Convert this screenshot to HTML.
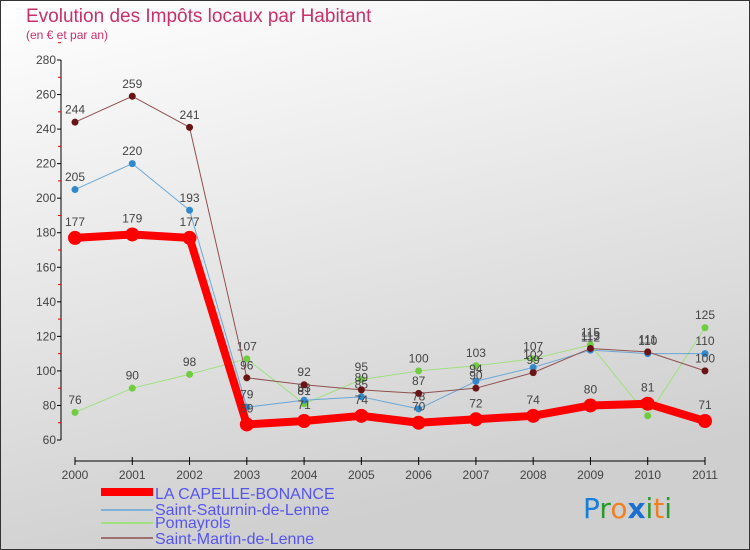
<!DOCTYPE html>
<html><head><meta charset="utf-8"><style>
body{margin:0;width:750px;height:550px;overflow:hidden}
svg{display:block;font-family:"Liberation Sans",sans-serif}
</style></head><body>
<svg width="750" height="550">
<defs><linearGradient id="bg" x1="0" y1="0" x2="0.3" y2="1"><stop offset="0" stop-color="#ffffff"/><stop offset="1" stop-color="#cfcfcf"/></linearGradient></defs>
<rect x="0.5" y="0.5" width="749" height="549" fill="url(#bg)" stroke="#333"/>
<text x="26" y="22" font-size="19" fill="#c8306a">Evolution des Impôts locaux par Habitant</text>
<text x="26" y="39" font-size="12" fill="#c8306a">(en € et par an)</text>
<g id="axes"></g><g id="series"></g>
<g>
<rect x="101" y="488" width="52" height="8" fill="#f00"/>
<text x="155" y="499" font-size="16" fill="#5555ee">LA CAPELLE-BONANCE</text>
<rect x="101" y="509" width="52" height="2" fill="#7fb0d8"/>
<text x="155" y="515" font-size="16" fill="#5555ee">Saint-Saturnin-de-Lenne</text>
<rect x="101" y="522" width="52" height="2" fill="#a0e080"/>
<text x="155" y="528" font-size="16" fill="#5555ee">Pomayrols</text>
<rect x="101" y="537" width="52" height="2" fill="#a07070"/>
<text x="155" y="544" font-size="16" fill="#5555ee">Saint-Martin-de-Lenne</text>
</g>
<g font-size="28" font-family="DejaVu Sans,sans-serif">
<text x="583" y="518"><tspan fill="#1a7fd8">P</tspan><tspan fill="#2a9a2a">r</tspan><tspan fill="#f08020">o</tspan><tspan fill="#1a6fd0" font-weight="bold">x</tspan><tspan fill="#2a9a2a">i</tspan><tspan fill="#f08020">t</tspan><tspan fill="#2a9a2a">i</tspan></text>
</g>
</svg>
<script>
const years=[2000,2001,2002,2003,2004,2005,2006,2007,2008,2009,2010,2011];
const yTicks=[60,80,100,120,140,160,180,200,220,240,260,280];
const capelle=[177,179,177,69,71,74,70,72,74,80,81,71];
const saturnin=[205,220,193,79,83,85,78,94,102,112,110,110];
const pomayrols=[76,90,98,107,81,95,100,103,107,115,74,125];
const martin=[244,259,241,96,92,89,87,90,99,113,111,100];
const NS="http://www.w3.org/2000/svg";
const xs=i=>75+i*(630/11);
const ys=v=>440-(v-60)*(380/220);
function mk(t,a,p){const e=document.createElementNS(NS,t);for(const k in a)e.setAttribute(k,a[k]);p.appendChild(e);return e;}
const ax=document.getElementById('axes');
let l=mk('line',{x1:61,y1:60,x2:61,y2:440,stroke:'#000'},ax);


yTicks.forEach(v=>{
 mk('line',{x1:57,x2:61,y1:ys(v),y2:ys(v),stroke:'#000'},ax);
 mk('line',{x1:58,x2:61,y1:ys(v+10),y2:ys(v+10),stroke:'#d00'},ax);
 const t=mk('text',{x:56,y:ys(v)+4,'text-anchor':'end','font-size':12,fill:'#444'},ax);t.textContent=v;
 
 
});
l=mk('line',{x1:75,y1:461,x2:705,y2:461,stroke:'#000'},ax);


years.forEach((y,i)=>{
 mk('line',{x1:xs(i),x2:xs(i),y1:457,y2:465,stroke:'#000'},ax);
 const t=mk('text',{x:xs(i),y:479,'text-anchor':'middle','font-size':12,fill:'#444'},ax);t.textContent=y;
 
 
});
const sg=document.getElementById('series');
function draw(data,color,dot,w,r,name){
 const g=mk('g',{},sg);
 
 
 mk('polyline',{points:data.map((v,i)=>xs(i)+','+ys(v)).join(' '),fill:'none',stroke:color,'stroke-width':w,'stroke-linejoin':'round'},g);
 data.forEach((v,i)=>{
  const c=mk('circle',{cx:xs(i),cy:ys(v),r:r,fill:dot},g);
  
  
  const t=mk('text',{x:xs(i),y:ys(v)-(r+5),'text-anchor':'middle','font-size':12,fill:'#444'},g);t.textContent=v;
  
  
 });
}
draw(pomayrols,'#a0e080','#70cc40',1,3.5,'series-pomayrols');
draw(saturnin,'#6aa8d8','#3388cc',1,3.5,'series-saturnin');
draw(martin,'#905050','#6a1515',1,3.5,'series-martin');
draw(capelle,'#f00','#f00',8,7,'series-capelle');
</script>
</body></html>
